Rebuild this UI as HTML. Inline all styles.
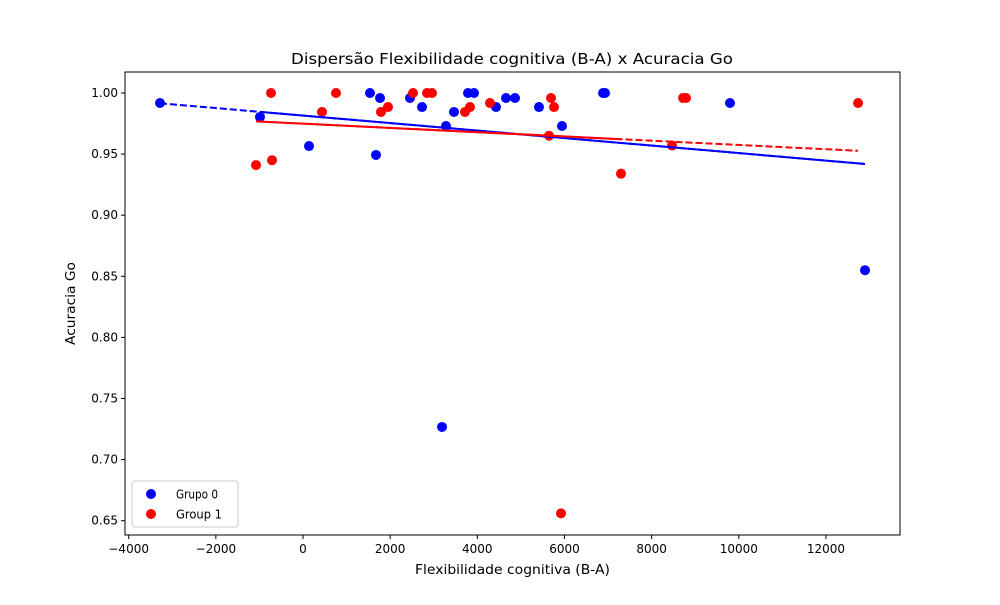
<!DOCTYPE html>
<html><head><meta charset="utf-8"><style>
body{margin:0;background:#fff;font-family:"Liberation Sans","DejaVu Sans",sans-serif}
svg text{font-family:"DejaVu Sans","Liberation Sans",sans-serif}
</style></head><body>
<svg id="chart" width="1000" height="600" xmlns="http://www.w3.org/2000/svg">
<rect width="1000" height="600" fill="#fff"/>
<g id="plot"></g>
</svg>
<script>
const xTicks=[-4000,-2000,0,2000,4000,6000,8000,10000,12000];
const yTicks=[0.65,0.70,0.75,0.80,0.85,0.90,0.95,1.00];
const g0x=[-3281,-987,138,1537,1675,1767,2455,2731,3190,3281,3465,3786,3924,4429,4658,4865,5415,5943,6884,6930,9798,12896];
const g0y=[0.9918,0.9804,0.9566,1.0,0.9493,0.9959,0.9959,0.9885,0.7267,0.973,0.9845,1.0,1.0,0.9885,0.9959,0.9959,0.9885,0.973,1.0,1.0,0.9918,0.855];
const g1x=[-1078,-734,-711,436,757,1790,1950,2524,2845,2960,3717,3832,4291,5645,5691,5760,5920,7297,8467,8720,8789,12736];
const g1y=[0.941,1.0,0.945,0.9845,1.0,0.9845,0.9885,1.0,1.0,1.0,0.9845,0.9885,0.9918,0.965,0.9959,0.9885,0.656,0.934,0.957,0.9959,0.9959,0.9918];
const L=125,R=900,T=72,B=535;
const X=v=>303+v*0.04358;
const Y=v=>93+(1-v)/0.05*61.1;
const NS="http://www.w3.org/2000/svg";
const p=document.getElementById('plot');
function mk(t,a,par){const e=document.createElementNS(NS,t);for(const k in a)e.setAttribute(k,a[k]);(par||p).appendChild(e);return e;}
function fit(xs,ys){const n=xs.length;let mx=0,my=0;for(let i=0;i<n;i++){mx+=xs[i];my+=ys[i];}mx/=n;my/=n;let sxy=0,sxx=0;for(let i=0;i<n;i++){sxy+=(xs[i]-mx)*(ys[i]-my);sxx+=(xs[i]-mx)**2;}const b=sxy/sxx;return [my-b*mx,b];}
[[g0x,g0y,'#0000ff','grupo-0-point'],[g1x,g1y,'#ff0000','group-1-point']].forEach(([xs,ys,c,n])=>{
 for(let i=0;i<xs.length;i++){const e=mk('circle',{cx:X(xs[i]),cy:Y(ys[i]),r:5,fill:c});
 
 }
});
[[g0x,g0y,'#0000ff','grupo-0-trend'],[g1x,g1y,'#ff0000','group-1-trend']].forEach(([xs,ys,c,n])=>{
 const [a,b]=fit(xs,ys);const mn=Math.min(...xs),mx=Math.max(...xs);
 const l=mk('line',{x1:X(mn),y1:Y(a+b*mn),x2:X(mx),y2:Y(a+b*mx),stroke:c,'stroke-width':2,'stroke-dasharray':'7,3'});
 
 
 const s0=n==='grupo-0-trend'?-987:mn, s1=n==='grupo-0-trend'?mx:7297;
 const s=mk('line',{x1:X(s0),y1:Y(a+b*s0),x2:X(s1),y2:Y(a+b*s1),stroke:c,'stroke-width':2});
 
 
});
const f=mk('rect',{x:L,y:T,width:R-L,height:B-T,fill:'none',stroke:'#000','stroke-width':1});


xTicks.forEach(v=>{const x=X(v);mk('line',{x1:x,y1:B,x2:x,y2:B+4,stroke:'#000'});
 const t=mk('text',{x:x,y:B+18,'text-anchor':'middle','font-size':12});t.textContent=v<0?'\u2212'+(-v):String(v);
 
 });
yTicks.forEach(v=>{const y=Y(v);mk('line',{x1:L-4,y1:y,x2:L,y2:y,stroke:'#000'});
 const t=mk('text',{x:L-7,y:y+4,'text-anchor':'end','font-size':12});t.textContent=v.toFixed(2);
 
 });
let t=mk('text',{x:291,y:64,'font-size':15,textLength:442,lengthAdjust:'spacingAndGlyphs'});t.textContent='Dispersão Flexibilidade cognitiva (B-A) x Acuracia Go';


t=mk('text',{x:415,y:574,'font-size':13,textLength:195,lengthAdjust:'spacingAndGlyphs'});t.textContent='Flexibilidade cognitiva (B-A)';


t=mk('text',{x:75,y:345,'font-size':13,textLength:83,lengthAdjust:'spacingAndGlyphs',transform:'rotate(-90 75 345)'});t.textContent='Acuracia Go';


const lg=mk('g',{});


mk('rect',{x:132,y:481,width:106,height:46,rx:3,fill:'#fff',stroke:'#ccc'},lg);
[['Grupo 0','#0000ff',494,42],['Group 1','#ff0000',514,46]].forEach(([s,c,y,w])=>{
 const e=mk('g',{},lg);
 
 
 mk('circle',{cx:151,cy:y,r:5,fill:c},e);
 const tt=mk('text',{x:176,y:y+4.5,'font-size':12.5,textLength:w,lengthAdjust:'spacingAndGlyphs'},e);tt.textContent=s;});
</script>
</body></html>
